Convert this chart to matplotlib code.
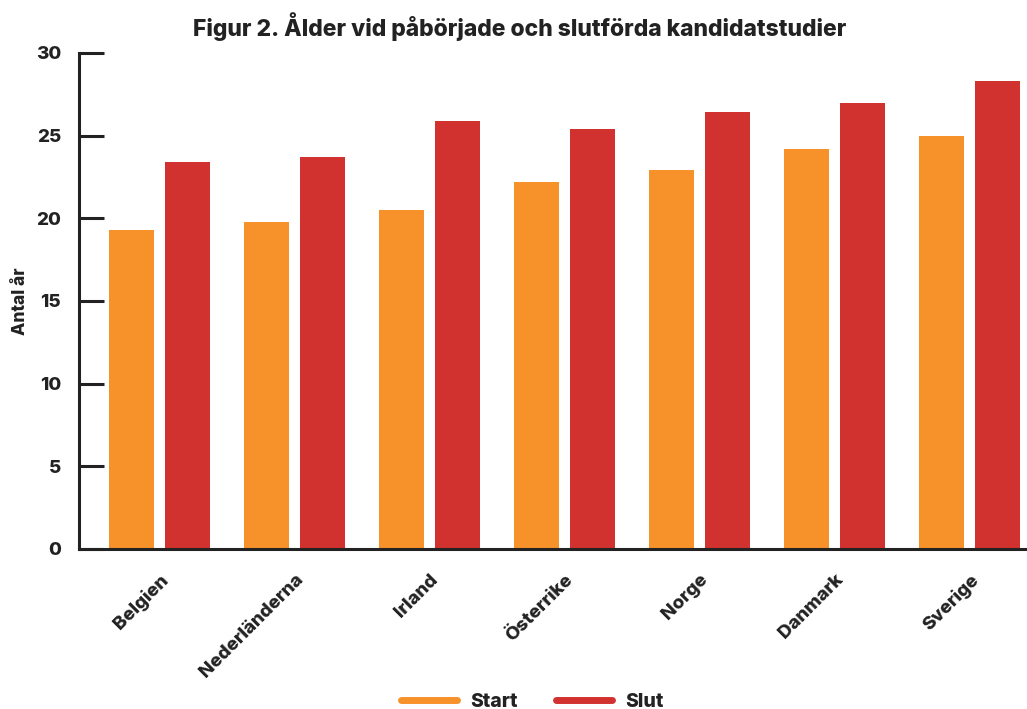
import matplotlib.pyplot as plt
import numpy as np
from matplotlib.lines import Line2D

countries = ['Belgien', 'Nederländerna', 'Irland', 'Österrike', 'Norge', 'Danmark', 'Sverige']
start = [19.3, 19.8, 20.5, 22.2, 22.9, 24.2, 25.0]
slut = [23.4, 23.7, 25.9, 25.4, 26.4, 27.0, 28.3]

plt.rcParams['font.family'] = ['Inter', 'DejaVu Sans']
plt.rcParams['font.weight'] = 'heavy'

fig = plt.figure(figsize=(10.27, 7.09), dpi=100)
ax = fig.add_axes([0.0769, 0.2257, 0.9231, 0.6996])

x = np.arange(len(countries))
w = 0.333
ax.bar(x - 0.207, start, w, color='#F7922A', label='Start')
ax.bar(x + 0.207, slut, w, color='#D2322F', label='Slut')

ax.set_xlim(-0.596, 6.426)
ax.set_ylim(0, 30)
ax.set_yticks(range(0, 31, 5))
ax.set_xticks(x)
ax.set_xticklabels(countries, rotation=45, ha='right', rotation_mode='anchor',
                   fontsize=13.5, fontweight='heavy', color='#222222')
for lab in ax.get_yticklabels():
    lab.set_fontsize(13.5)
    lab.set_fontweight('heavy')
    lab.set_color('#222222')
ax.tick_params(axis='y', direction='in', length=18, width=2.2, color='#222222', pad=13)
ax.tick_params(axis='x', length=0, pad=16)

for s in ['top', 'right']:
    ax.spines[s].set_visible(False)
for s in ['left', 'bottom']:
    ax.spines[s].set_linewidth(2.2)
    ax.spines[s].set_color('#222222')

ax.set_ylabel('Antal år', fontsize=12.5, fontweight='heavy', color='#222222', labelpad=5)
fig.text(0.506, 0.962, 'Figur 2. Ålder vid påbörjade och slutförda kandidatstudier',
         ha='center', va='center', fontsize=16.5, fontweight='heavy', color='#222222')

handles = [Line2D([], [], color='#F7922A', lw=5, solid_capstyle='round'),
           Line2D([], [], color='#D2322F', lw=5, solid_capstyle='round')]
fig.legend(handles, ['Start', 'Slut'], loc='center', bbox_to_anchor=(0.518, 0.01),
           ncol=2, frameon=False, fontsize=14, handlelength=2.9, columnspacing=1.95,
           handletextpad=0.67, labelcolor='#222222')

fig.savefig('out.png', dpi=100)
